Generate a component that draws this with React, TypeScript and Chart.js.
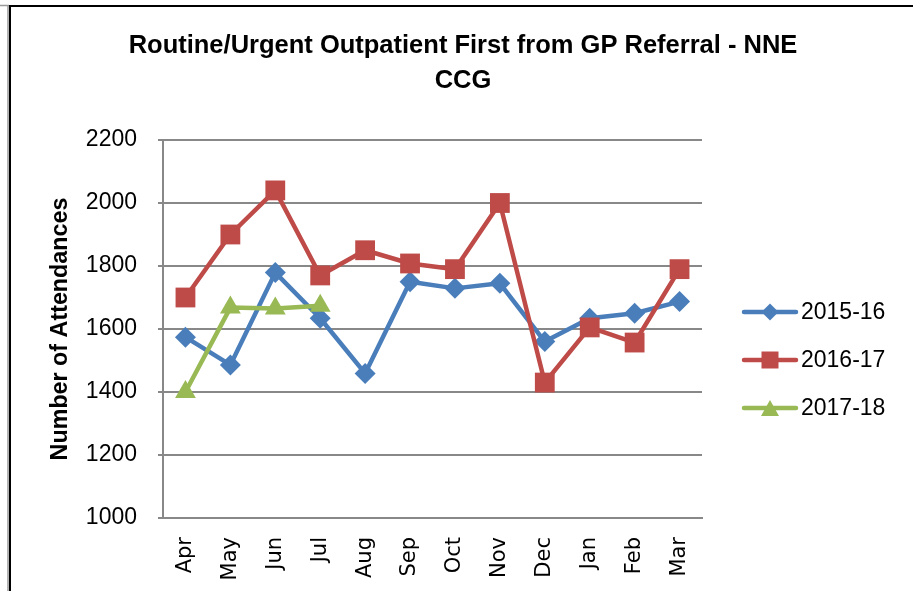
import React, { useEffect, useRef } from "react";
import { Chart, registerables } from "chart.js";

Chart.register(...registerables);

const titleLines = ["Routine/Urgent Outpatient First from GP Referral - NNE", "CCG"];
const yAxisTitle = "Number of Attendances";
const months = ["Apr", "May", "Jun", "Jul", "Aug", "Sep", "Oct", "Nov", "Dec", "Jan", "Feb", "Mar"];
const seriesNames = ["2015-16", "2016-17", "2017-18"];
const values1516 = [1574, 1486, 1779, 1634, 1459, 1750, 1729, 1745, 1560, 1634, 1650, 1687];
const values1617 = [1700, 1900, 2040, 1770, 1850, 1808, 1790, 2000, 1430, 1605, 1557, 1790];
const values1718 = [1400, 1668, 1665, 1674];
const yMin = 1000;
const yMax = 2200;
const yStep = 200;

const BLUE = "#4A7EBB";
const RED = "#BE4B48";
const GREEN = "#98B954";
const GRID = "#888888";

function drawMarker(ctx: CanvasRenderingContext2D, style: string, x: number, y: number, s: number, color: string) {
  ctx.save();
  ctx.fillStyle = color;
  ctx.beginPath();
  if (style === "rectRot") {
    ctx.moveTo(x, y - s / 2);
    ctx.lineTo(x + s / 2, y);
    ctx.lineTo(x, y + s / 2);
    ctx.lineTo(x - s / 2, y);
  } else if (style === "rect") {
    ctx.rect(x - s / 2, y - s / 2, s, s);
  } else {
    ctx.moveTo(x, y - s * 0.45);
    ctx.lineTo(x + s / 2, y + s * 0.45);
    ctx.lineTo(x - s / 2, y + s * 0.45);
  }
  ctx.closePath();
  ctx.fill();
  ctx.restore();
}

const decorPlugin = {
  id: "decor",
  afterDraw(chart: any) {
    const ctx: CanvasRenderingContext2D = chart.ctx;
    ctx.save();
    // frame
    ctx.strokeStyle = "#9a9a9a";
    ctx.lineWidth = 1.5;
    ctx.beginPath();
    ctx.moveTo(0, 5.5);
    ctx.lineTo(9, 5.5);
    ctx.moveTo(8, 5);
    ctx.lineTo(8, 591);
    ctx.stroke();
    ctx.strokeStyle = "#000000";
    ctx.lineWidth = 2;
    ctx.beginPath();
    ctx.moveTo(9, 6);
    ctx.lineTo(913, 6);
    ctx.moveTo(10, 5);
    ctx.lineTo(10, 591);
    ctx.stroke();
    // title
    ctx.fillStyle = "#000";
    ctx.font = "bold 25.5px 'Liberation Sans', Arial, sans-serif";
    ctx.textAlign = "center";
    ctx.textBaseline = "middle";
    titleLines.forEach((t, i) => ctx.fillText(t, 463, 46 + i * 35));
    // legend
    const styles = ["rectRot", "rect", "triangle"];
    const sizes = [17, 17, 18];
    chart.data.datasets.forEach((ds: any, i: number) => {
      const y = 312 + i * 48;
      ctx.strokeStyle = ds.borderColor;
      ctx.lineWidth = 4.5;
      ctx.lineCap = "round";
      ctx.beginPath();
      ctx.moveTo(744, y);
      ctx.lineTo(796, y);
      ctx.stroke();
      drawMarker(ctx, styles[i], 770, y, sizes[i], ds.borderColor);
      ctx.fillStyle = "#000";
      ctx.font = "23px 'Liberation Sans', Arial, sans-serif";
      ctx.textAlign = "left";
      ctx.textBaseline = "middle";
      ctx.fillText(ds.label, 801, y + 1);
    });
    ctx.restore();
  },
};

export default function App() {
  const ref = useRef<HTMLCanvasElement>(null);
  useEffect(() => {
    if (!ref.current) return;
    const chart = new Chart(ref.current, {
      type: "line",
      data: {
        labels: months,
        datasets: [
          {
            label: seriesNames[0],
            data: values1516,
            borderColor: BLUE,
            backgroundColor: BLUE,
            borderWidth: 4.5,
            pointStyle: "rectRot",
            pointRadius: 10.5,
            pointBorderWidth: 0,
            order: 3,
          },
          {
            label: seriesNames[1],
            data: values1617,
            borderColor: RED,
            backgroundColor: RED,
            borderWidth: 4.5,
            pointStyle: "rect",
            pointRadius: 14,
            pointBorderWidth: 0,
            order: 2,
          },
          {
            label: seriesNames[2],
            data: values1718,
            borderColor: GREEN,
            backgroundColor: GREEN,
            borderWidth: 4.5,
            pointStyle: "triangle",
            pointRadius: 12,
            pointBorderWidth: 0,
            order: 1,
          },
        ],
      },
      options: {
        responsive: false,
        animation: false,
        layout: { padding: { left: 38, right: 211, top: 140, bottom: 0 } },
        plugins: { legend: { display: false }, title: { display: false }, tooltip: { enabled: false } },
        elements: { line: { tension: 0, borderJoinStyle: "round", borderCapStyle: "round" } },
        scales: {
          x: {
            offset: true,
            grid: { display: false, drawTicks: false },
            border: { display: true, color: GRID, width: 2 },
            ticks: {
              autoSkip: false,
              minRotation: 90,
              maxRotation: 90,
              padding: 19,
              color: "#000",
              font: { family: "'DejaVu Sans', sans-serif", size: 21 },
            },
            afterFit: (scale: any) => {
              scale.height = 73;
            },
          },
          y: {
            min: yMin,
            max: yMax,
            ticks: {
              stepSize: yStep,
              padding: 21,
              color: "#000",
              font: { family: "'Liberation Sans', Arial, sans-serif", size: 23 },
              callback: (v: any) => String(v),
            },
            grid: { color: GRID, lineWidth: 2, tickLength: 5, drawTicks: true },
            border: { display: true, color: GRID, width: 2 },
            title: {
              display: true,
              text: yAxisTitle,
              color: "#000",
              padding: { top: 9, bottom: 0 },
              font: { family: "'Liberation Sans', Arial, sans-serif", size: 23.3, weight: "bold" },
            },
            afterFit: (scale: any) => {
              scale.width = 125;
            },
          },
        },
      },
      plugins: [decorPlugin],
    });
    return () => chart.destroy();
  }, []);
  return (
    <div style={{ position: "absolute", left: 0, top: 0, width: 913, height: 591, overflow: "hidden", background: "#fff" }}>
      <canvas ref={ref} width={913} height={591} style={{ display: "block" }} />
    </div>
  );
}
